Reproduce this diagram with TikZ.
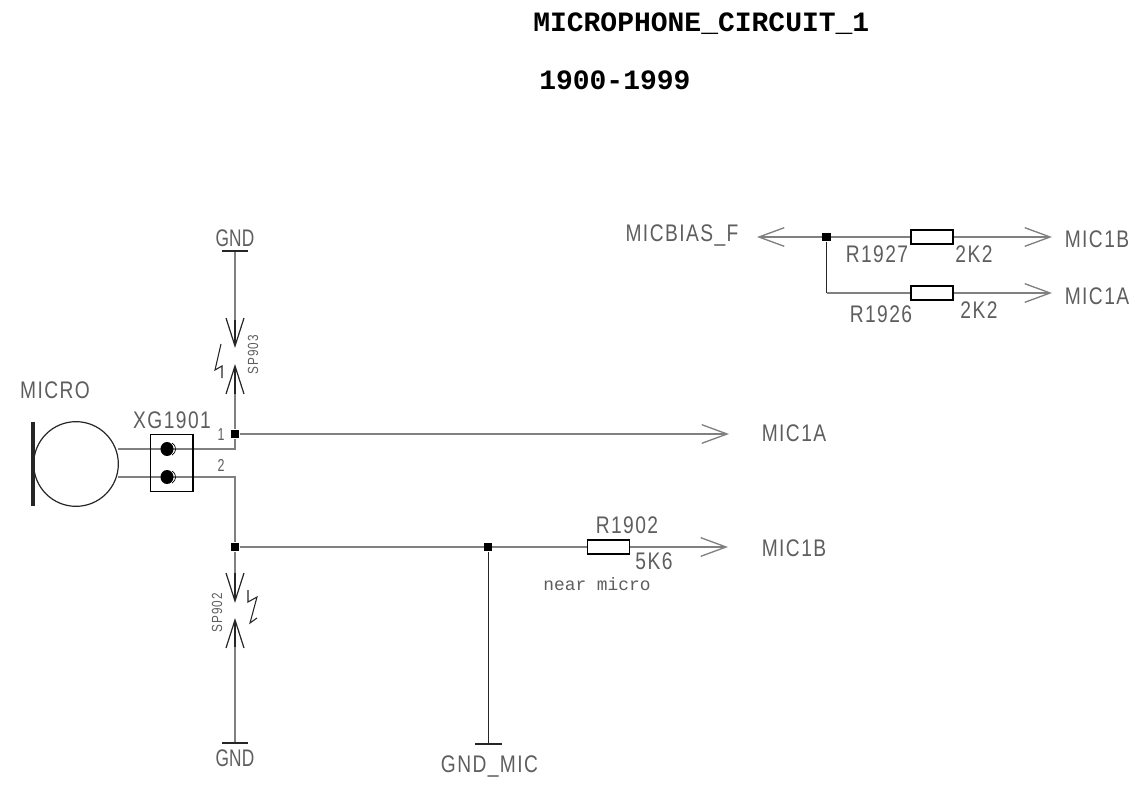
\documentclass[tikz,border=0pt]{standalone}
\usepackage{fontspec}
\usetikzlibrary{arrows.meta,backgrounds}
\setmainfont{Liberation Sans}
\newfontfamily\cad[FakeStretch=0.8,LetterSpace=6]{Liberation Sans}
\newfontfamily\cadgnd[FakeStretch=0.72,LetterSpace=1]{Liberation Sans}
\newfontfamily\cadsmall{Liberation Mono}
\newfontfamily\cadtiny[FakeStretch=0.8,LetterSpace=8]{Liberation Sans}
\newfontfamily\ttl{Liberation Mono}
\definecolor{wire}{HTML}{808080}
\definecolor{txt}{HTML}{5E5E5E}
\tikzset{
  net/.style={draw=wire,line width=1.3pt},
  thin wire/.style={draw=black!85,line width=.7pt},
  ptr/.style={net,-{Straight Barb[length=19pt,width=14pt,line width=1pt]}},
  spark/.style={draw=black!85,line width=.9pt,-{Straight Barb[length=21pt,width=13.5pt,line width=.9pt]}},
  bolt/.style={draw=black!85,line width=.8pt},
  lab/.style={inner sep=0pt,text=txt,font=\cad\fontsize{18}{20}\selectfont},
  gndlab/.style={inner sep=0pt,text=txt,font=\cadgnd\fontsize{18}{20}\selectfont},
  tiny/.style={inner sep=0pt,text=txt,font=\cadtiny\fontsize{11}{12}\selectfont},
  pinlab/.style={inner sep=0pt,text=txt,font=\cadgnd\fontsize{13}{14}\selectfont},
  hdr/.style={inner sep=0pt,text=black,anchor=west,font=\ttl\bfseries\fontsize{21}{24}\selectfont},
  dot/.style={fill=black,inner sep=0pt,minimum size=6.5pt,rectangle},
  res/.style={draw=black,fill=white,line width=1pt,inner sep=0pt,minimum width=31.5pt,minimum height=10.5pt,rectangle},
  rail/.style={draw=black!85,line width=1.4pt},
}
\begin{document}
\begin{tikzpicture}[x=.75pt,y=-.75pt]
\useasboundingbox (0,0) rectangle (1145,795);
% titles
\node[hdr] (t1) at (533,24) {MICROPHONE\_CIRCUIT\_1};
\node[hdr] (t2) at (539,80) {1900-1999};
% anchors
\node[dot] (j1) at (235,434) {};
\node[dot] (j2) at (235,547) {};
\node[dot] (j3) at (488,547) {};
\node[dot] (j4) at (826.5,237) {};
\coordinate (c1) at (235,449);
\coordinate (c2) at (235,477);
\coordinate (m1) at (118,449);
\coordinate (m2) at (118,477);
\coordinate (g1) at (235,251);
\coordinate (g2) at (235,743);
\coordinate (g3) at (488,744);
\coordinate (t1a) at (235,348);
\coordinate (t1b) at (235,364);
\coordinate (t2a) at (235,603);
\coordinate (t2b) at (235,618);
\coordinate (a1) at (729,434);
\coordinate (a2) at (728,547);
\coordinate (a3) at (757,237);
\coordinate (a4) at (1052,237);
\coordinate (a5) at (1052,293);
\coordinate (b1) at (826.5,293);
% microphone
\node[draw=black!85,line width=.9pt,circle,minimum size=63.5pt,inner sep=0pt] (mic) at (76,464) {};
\coordinate (mt) at (33,422);
\coordinate (mb) at (33,506);
\draw[rail,line width=2.3pt] (mt) -- (mb);
% wires
\begin{scope}[on background layer]
\draw[net] (m1) -- (c1) -- (j1);
\draw[net] (m2) -- (c2) -- (j2);
\draw[spark] (g1) -- (t1a);
\draw[spark] (j1) -- (t1b);
\draw[spark] (j2) -- (t2a);
\draw[spark] (g2) -- (t2b);
\draw[net] (g1) -- (235,320);
\draw[net] (j1) -- (235,394);
\draw[net] (j2) -- (235,573);
\draw[net] (g2) -- (235,647);
\draw[ptr] (j1) -- (a1);
\draw[ptr] (j2) -- (a2);
\draw[thin wire] (j3) -- (g3);
\draw[ptr] (j4) -- (a3);
\draw[ptr] (j4) -- (a4);
\draw[thin wire] (j4) -- (b1);
\draw[ptr] (b1) -- (a5);
\end{scope}
% rails
\draw[rail] (222,251) -- (248,251);
\draw[rail] (222,743) -- (248,743);
\draw[rail] (475,744) -- (502,744);
% connector
\node[draw=black,line width=1pt,minimum width=32pt,minimum height=43pt,inner sep=0pt,rectangle] (xg) at (171.5,463) {};
\fill[black] (167,449) circle[x radius=6.5,y radius=7];
\fill[black] (167,477) circle[x radius=6.5,y radius=7];
\draw[black,line width=.5pt] (172,443) arc[start angle=-60,end angle=60,radius=7];
\draw[black,line width=.5pt] (172,471) arc[start angle=-60,end angle=60,radius=7];
% resistors
\node[res] (r1) at (608.5,547) {};
\node[res] (r2) at (932,237) {};
\node[res] (r3) at (932,293) {};
% sparks
\draw[bolt] (221,344) -- (215,370) -- (222,366) -- (222,378);
\draw[bolt] (248,590) -- (248,602) -- (257,597) -- (250,623) -- (257,618);
% labels
\node[gndlab] (l1) at (235,238) {GND};
\node[gndlab] (l2) at (235,758) {GND};
\node[lab] (l3) at (489.5,766) {GND\_MIC};
\node[lab] (l4) at (55,390) {MICRO};
\node[lab] (l5) at (172,420) {XG1901};
\node[lab] (l6) at (794,433) {MIC1A};
\node[lab] (l7) at (794,548) {MIC1B};
\node[lab] (l8) at (627,525) {R1902};
\node[lab] (l9) at (654,561) {5K6};
\node[lab] (l10) at (682,236) {MICBIAS\_F};
\node[lab] (l11) at (1097,239) {MIC1B};
\node[lab] (l12) at (1097,296) {MIC1A};
\node[lab] (l13) at (877,254) {R1927};
\node[lab] (l14) at (974,254) {2K2};
\node[lab] (l15) at (881,314) {R1926};
\node[lab] (l16) at (979,310) {2K2};
\node[inner sep=0pt,text=txt,font=\cadsmall\fontsize{13.4}{15}\selectfont] (l17) at (597,584) {near micro};
\node[pinlab] (l18) at (221,435) {1};
\node[pinlab] (l19) at (221,465) {2};
\node[tiny,rotate=90] (l20) at (253,355) {SP903};
\node[tiny,rotate=90] (l21) at (217,613) {SP902};
\end{tikzpicture}
\end{document}
